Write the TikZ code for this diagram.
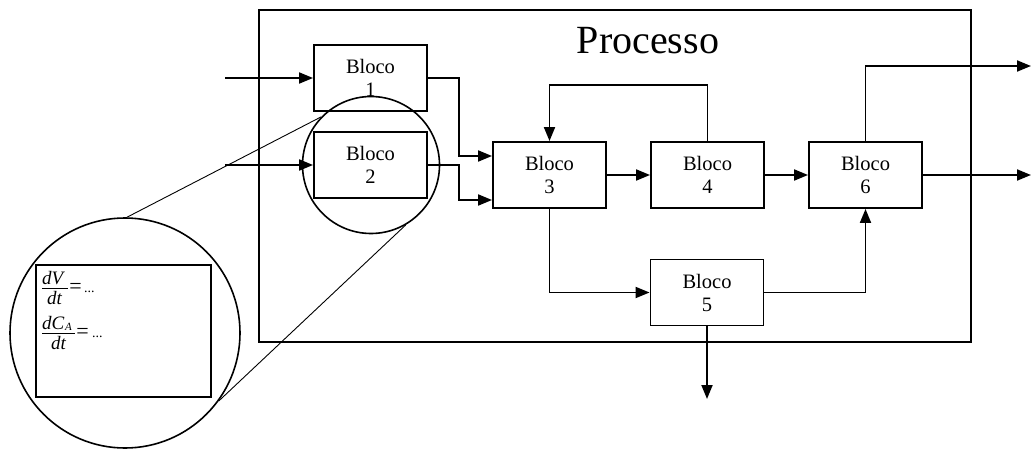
\documentclass[tikz,border=0pt]{standalone}
\usepackage{fontspec}
\setmainfont{Liberation Serif}
\usetikzlibrary{arrows.meta,calc}

\tikzset{
  blockbox/.style={draw, line width=1.9pt, minimum width=113pt, minimum height=66pt,
    inner sep=0pt, align=center, font=\fontsize{20.5}{23}\selectfont},
  arr/.style={line width=1.9pt, -{Triangle[length=14pt,width=11pt]}},
  lens/.style={draw, circle, line width=1.6pt, inner sep=0pt},
  guide/.style={line width=0.9pt},
  sym/.style={inner sep=0pt, anchor=base west, font=\fontsize{19}{22}\selectfont\itshape},
  sub/.style={inner sep=0pt, anchor=base west, font=\fontsize{11}{12}\selectfont\itshape},
  eqsign/.style={inner sep=0pt, font=\fontsize{22}{24}\selectfont},
  dots/.style={inner sep=0pt, anchor=base west, font=\fontsize{14}{16}\selectfont},
  bar/.style={line width=1pt}
}

\begin{document}
\begin{tikzpicture}[x=1pt, y=-1pt]
  \useasboundingbox (0,0) rectangle (1032,449);

  % process boundary and title
  \draw[line width=1.9pt] (259,10) rectangle (971,342);
  \node[font=\fontsize{40}{44}\selectfont, inner sep=0pt] (title) at (648,41) {Processo};

  % blocks
  \node[blockbox] (B1) at (370.5,78)  {Bloco\\1};
  \node[blockbox] (B2) at (370.5,165) {Bloco\\2};
  \node[blockbox] (B3) at (549.5,175) {Bloco\\3};
  \node[blockbox] (B4) at (707.5,175) {Bloco\\4};
  \node[blockbox] (B6) at (865.5,175) {Bloco\\6};
  \node[blockbox] (B5) at (707,292.5) {Bloco\\5};

  % free ends of inputs and outputs
  \coordinate (in1)  at (225,78);
  \coordinate (in2)  at (225,165);
  \coordinate (out1) at (1031,66);
  \coordinate (out2) at (1031,176);
  \coordinate (out3) at (707,399);

  % connectors
  \draw[arr] (in1) -- (B1.west);
  \draw[arr] (in2) -- (B2.west);
  \draw[arr] (B1.east) -| ($(B3.west)+(-33,-19)$) -- ($(B3.west)+(0,-19)$);
  \draw[arr] (B2.east) -| ($(B3.west)+(-33,25)$) -- ($(B3.west)+(0,25)$);
  \draw[arr] (B3) -- (B4);
  \draw[arr] (B4.north) -- ++(0,-56) -| (B3.north);
  \draw[arr] (B4) -- (B6);
  \draw[arr] (B3.south) |- (B5.west);
  \draw[arr] (B5.east) -| (B6.south);
  \draw[arr] (B6.north) |- (out1);
  \draw[arr] (B6.east) -- (B6.east -| out2);
  \draw[arr] (B5.south) -- (out3);

  % magnifier: small circle around Bloco 2 and enlarged view
  \node[lens, minimum size=137pt] (zoomS) at (371,165) {};
  \node[lens, minimum size=230pt] (zoomL) at (125,333) {};
  \draw[guide] (zoomS.136) -- (zoomL.89);
  \draw[guide] (zoomS.300) -- (zoomL.324);

  % model equations inside the enlarged view
  \draw[line width=1.9pt] (36,265) rectangle (211,397);

  % dV/dt = ...
  \node[sym] (numV) at (42,284) {dV};
  \draw[bar] (42,288) -- (68,288);
  \node[sym] (denV) at (47,304) {dt};
  \node[eqsign] (eqV) at (75.5,288) {=};
  \node[dots] (dotV) at (84,292) {...};

  % dC_A/dt = ...
  \node[sym] (numC) at (42,329) {dC};
  \node[sub] (subC) at (65,330) {A};
  \draw[bar] (42,333) -- (75,333);
  \node[sym] (denC) at (51,349) {dt};
  \node[eqsign] (eqC) at (82.5,333) {=};
  \node[dots] (dotC) at (92,337) {...};
\end{tikzpicture}
\end{document}
